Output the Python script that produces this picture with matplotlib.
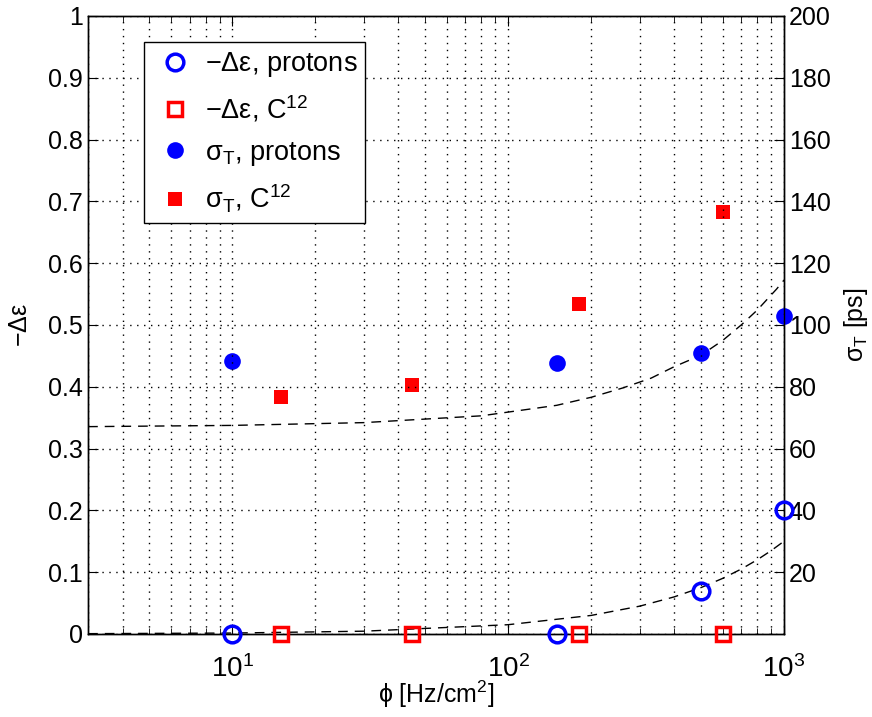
import matplotlib.pyplot as plt
from matplotlib.ticker import FixedLocator, FormatStrFormatter, LogLocator

plt.rcParams['font.family'] = ['Liberation Sans', 'DejaVu Sans']
plt.rcParams['mathtext.fontset'] = 'custom'
plt.rcParams['mathtext.rm'] = 'Liberation Sans'
plt.rcParams['mathtext.it'] = 'Liberation Sans:italic'
plt.rcParams['font.size'] = 18

# -delta eps (left axis)
de_p_x = [10, 150, 500, 1000]
de_p_y = [0.0, 0.0, 0.07, 0.2]
de_c_x = [15, 45, 180, 600]
de_c_y = [0.0, 0.0, 0.0, 0.0]

# sigma_T in ps (right axis)
st_p_x = [10, 150, 500, 1000]
st_p_y = [88.3, 87.7, 91.0, 103.0]
st_c_x = [15, 45, 180, 600]
st_c_y = [76.7, 80.6, 106.8, 136.6]

# dashed fit curves
fit_de_x = [3, 10, 30, 100, 200, 300, 400, 500, 600, 700, 800, 900, 1000]
fit_de_y = [0.0005, 0.0015, 0.0045, 0.015, 0.03, 0.045, 0.06, 0.075, 0.09, 0.105, 0.12, 0.135, 0.15]
fit_st_x = [3, 10, 30, 80, 150, 200, 260, 330, 400, 500, 600, 700, 800, 940, 1000]
fit_st_y = [67.1, 67.5, 68.4, 70.6, 74.0, 76.6, 79.6, 82.8, 86.5, 90.2, 95.0, 100.0, 104.8, 111.6, 114.5]

fig = plt.figure(figsize=(8.72, 7.17), dpi=100)
ax = fig.add_axes([0.101, 0.1158, 0.798, 0.8619])
ax2 = ax.twinx()

ax.set_xscale('log')
ax.set_xlim(3, 1000)
ax.set_ylim(0, 1)
ax2.set_ylim(0, 200)

ax.plot(fit_de_x, fit_de_y, color='black', ls=(0, (7, 5)), lw=1, zorder=2)
ax2.plot(fit_st_x, fit_st_y, color='black', ls=(0, (7, 5)), lw=1, zorder=2)

h1, = ax.plot(de_p_x, de_p_y, 'o', ms=12, mfc='none', mec='#0000ff', mew=2.5,
              clip_on=False, zorder=3, label=r'$-\Delta$ε, protons')
h2, = ax.plot(de_c_x, de_c_y, 's', ms=10, mfc='none', mec='#ff0000', mew=2.5,
              clip_on=False, zorder=3, label=r'$-\Delta$ε, C$^{12}$')
h3, = ax2.plot(st_p_x, st_p_y, 'o', ms=12, color='#0000ff', mew=0,
               clip_on=False, zorder=3, label=r'σ$_{\mathrm{T}}$, protons')
h4, = ax2.plot(st_c_x, st_c_y, 's', ms=10, color='#ff0000', mew=0,
               clip_on=False, zorder=3, label=r'σ$_{\mathrm{T}}$, C$^{12}$')

ax.yaxis.set_major_locator(FixedLocator([i / 10 for i in range(11)]))
ax.yaxis.set_major_formatter(FormatStrFormatter('%g'))
ax2.yaxis.set_major_locator(FixedLocator(list(range(20, 201, 20))))
ax.xaxis.set_major_locator(LogLocator(base=10))
ax.xaxis.set_minor_locator(LogLocator(base=10, subs=range(2, 10)))

grid_ls = (0, (1, 4))
ax.grid(True, which='major', ls=grid_ls, color='black', lw=1)
ax.grid(True, which='minor', axis='x', ls=grid_ls, color='black', lw=1)

ax.tick_params(which='both', direction='in', top=True, length=7)
ax.tick_params(which='minor', length=4)
ax.tick_params(axis='x', which='major', pad=15, labelsize=20)
ax2.tick_params(direction='in', length=7)
for a in (ax, ax2):
    for s in a.spines.values():
        s.set_linewidth(1)

ax.set_xlabel(r'ϕ [Hz/cm$^2$]', labelpad=-3)
ax.set_ylabel(r'$-\Delta$ε', labelpad=12)
ax2.set_ylabel(r'σ$_{\mathrm{T}}$ [ps]', labelpad=8)

ax.set_zorder(ax2.get_zorder() + 1)
ax.patch.set_visible(False)
leg = ax.legend(handles=[h1, h2, h3, h4], loc='upper left',
                bbox_to_anchor=(0.080, 0.958), borderaxespad=0,
                fancybox=False, edgecolor='black', framealpha=1,
                labelspacing=0.55, handletextpad=0.25, borderpad=0.3,
                handlelength=1.7, fontsize=19.5)
leg.get_frame().set_linewidth(1)

fig.savefig('out.png', dpi=100)
